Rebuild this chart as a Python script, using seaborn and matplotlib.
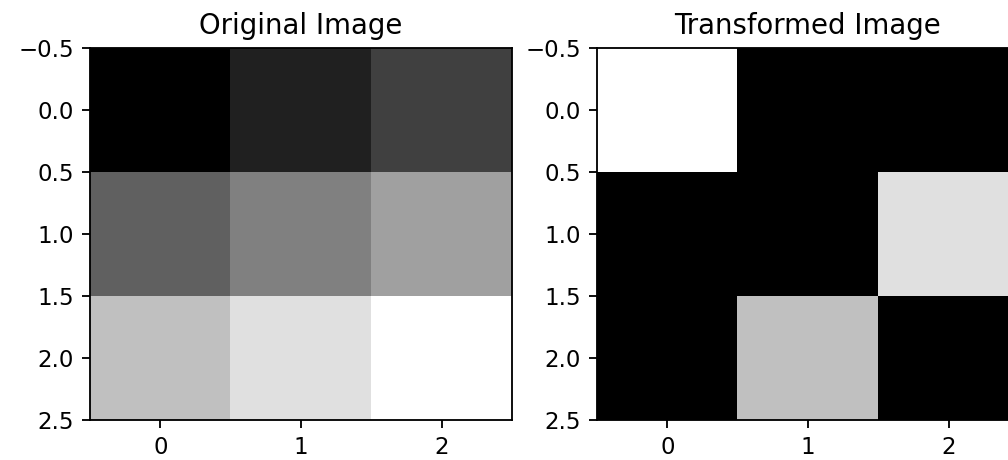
import numpy as np
import matplotlib
matplotlib.use("Agg")
import matplotlib.pyplot as plt
import seaborn as sns

# pixel values of the two 3x3 images
original = [[0, 1, 2],
            [3, 4, 5],
            [6, 7, 8]]
transformed = [[8, 0, 0],
               [0, 0, 7],
               [0, 6, 0]]
col_ticks = [0, 1, 2]

DPI = 165
fig = plt.figure(figsize=(1008 / DPI, 460 / DPI), dpi=DPI)
cmap = sns.color_palette("gray", as_cmap=True)

W, H = 1008, 460
ax1 = fig.add_axes([90 / W, 40 / H, 422 / W, 372 / H])
ax2 = fig.add_axes([597 / W, 40 / H, 422 / W, 372 / H])

for ax, img, title in [(ax1, original, "Original Image"),
                       (ax2, transformed, "Transformed Image")]:
    ax.imshow(np.array(img), cmap=cmap, aspect="auto")
    ax.set_title(title)
    ax.set_xticks(col_ticks)

fig.savefig("out.png", dpi=DPI)
